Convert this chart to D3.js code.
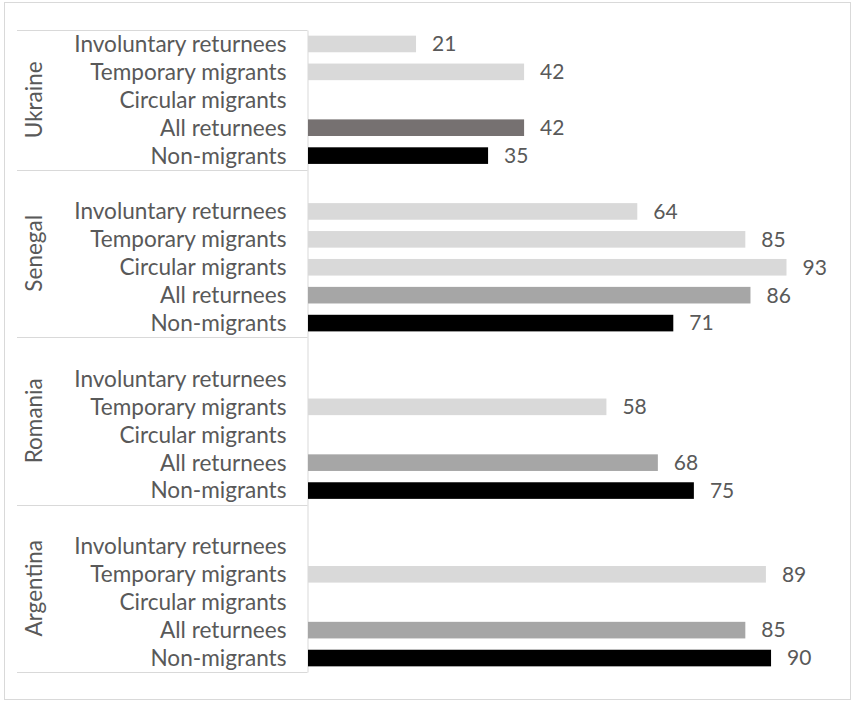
<!DOCTYPE html>
<html>
<head>
<meta charset="utf-8">
<script src="https://cdn.jsdelivr.net/npm/d3@7"></script>
<style>
  html, body { margin: 0; padding: 0; background: #fff; }
  svg { display: block; }
  text { font-family: Lato, "Open Sans", sans-serif; fill: #595959; }
</style>
</head>
<body>
<svg id="chart" width="854" height="702"></svg>
<script>
// ---- data ----
const countries = ["Ukraine", "Senegal", "Romania", "Argentina"];
const categories = ["Involuntary returnees", "Temporary migrants", "Circular migrants", "All returnees", "Non-migrants"];
const ukraineValues   = [21, 42, null, 42, 35];
const senegalValues   = [64, 85, 93, 86, 71];
const romaniaValues   = [null, 58, null, 68, 75];
const argentinaValues = [null, 89, null, 85, 90];
const categoryColors = ["#d9d9d9", "#d9d9d9", "#d9d9d9", "#a6a6a6", "#000000"];
const ukraineAllReturneesColor = "#767171";

const valuesByCountry = [ukraineValues, senegalValues, romaniaValues, argentinaValues];

// ---- build rows (blank slot before every group except the first) ----
const rows = [];
countries.forEach((c, ci) => {
  if (ci > 0) rows.push({ key: c + "|blank", country: c, blank: true });
  categories.forEach((cat, k) => {
    const v = valuesByCountry[ci][k];
    let color = categoryColors[k];
    if (c === "Ukraine" && cat === "All returnees") color = ukraineAllReturneesColor;
    rows.push({ key: c + "|" + cat, country: c, category: cat, value: v, color });
  });
});

const svg = d3.select("#chart");
const axisX = 307.5;

// outer border
svg.append("rect")
  .attr("x", 4.5).attr("y", 2.5)
  .attr("width", 846).attr("height", 697)
  .attr("fill", "none").attr("stroke", "#d9d9d9").attr("stroke-width", 1);

const y = d3.scaleBand().domain(rows.map(r => r.key)).range([30, 672]).padding(0);
const x = d3.scaleLinear().domain([0, 100]).range([308, 822.5]);
const step = y.step();
const barH = step * 0.595;

// category axis
const labelOf = new Map(rows.map(r => [r.key, r.blank ? "" : r.category]));
const axisG = svg.append("g")
  .attr("transform", `translate(${axisX},0)`)
  .call(d3.axisLeft(y).tickSize(0).tickPadding(21).tickFormat(k => labelOf.get(k)));
axisG.select(".domain").attr("stroke", "#d9d9d9").attr("stroke-width", 1);
axisG.selectAll(".tick text")
  .attr("font-family", "Lato, 'Open Sans', sans-serif")
  .attr("font-size", 22.6)
  .attr("fill", "#595959")
  .attr("dy", "0.35em");

// group separators
const groupBounds = [];
countries.forEach((c, ci) => {
  const groupRows = rows.filter(r => r.country === c);
  const top = y(groupRows[0].key);
  const bottom = y(groupRows[groupRows.length - 1].key) + step;
  groupBounds.push({ country: c, top, bottom });
});
const sepYs = [groupBounds[0].top].concat(groupBounds.map(g => g.bottom));
svg.append("g").selectAll("line").data(sepYs).join("line")
  .attr("x1", 17).attr("x2", axisX)
  .attr("y1", d => Math.round(d) + 0.5).attr("y2", d => Math.round(d) + 0.5)
  .attr("stroke", "#d9d9d9").attr("stroke-width", 1);

// country labels
svg.append("g").selectAll("text").data(groupBounds).join("text")
  .attr("transform", g => `translate(34,${(g.top + g.bottom) / 2}) rotate(-90)`)
  .attr("text-anchor", "middle")
  .attr("dy", "0.35em")
  .attr("font-size", 22.5)
  .text(g => g.country);

// bars
const barRows = rows.filter(r => !r.blank && r.value != null);
svg.append("g").selectAll("rect").data(barRows).join("rect")
  .attr("x", x(0))
  .attr("y", r => y(r.key) + (step - barH) / 2)
  .attr("width", r => x(r.value) - x(0))
  .attr("height", barH)
  .attr("fill", r => r.color);

// value labels
svg.append("g").selectAll("text").data(barRows).join("text")
  .attr("x", r => x(r.value) + 16)
  .attr("y", r => y(r.key) + step / 2)
  .attr("dy", "0.35em")
  .attr("font-size", 21)
  .text(r => r.value);
</script>
</body>
</html>
